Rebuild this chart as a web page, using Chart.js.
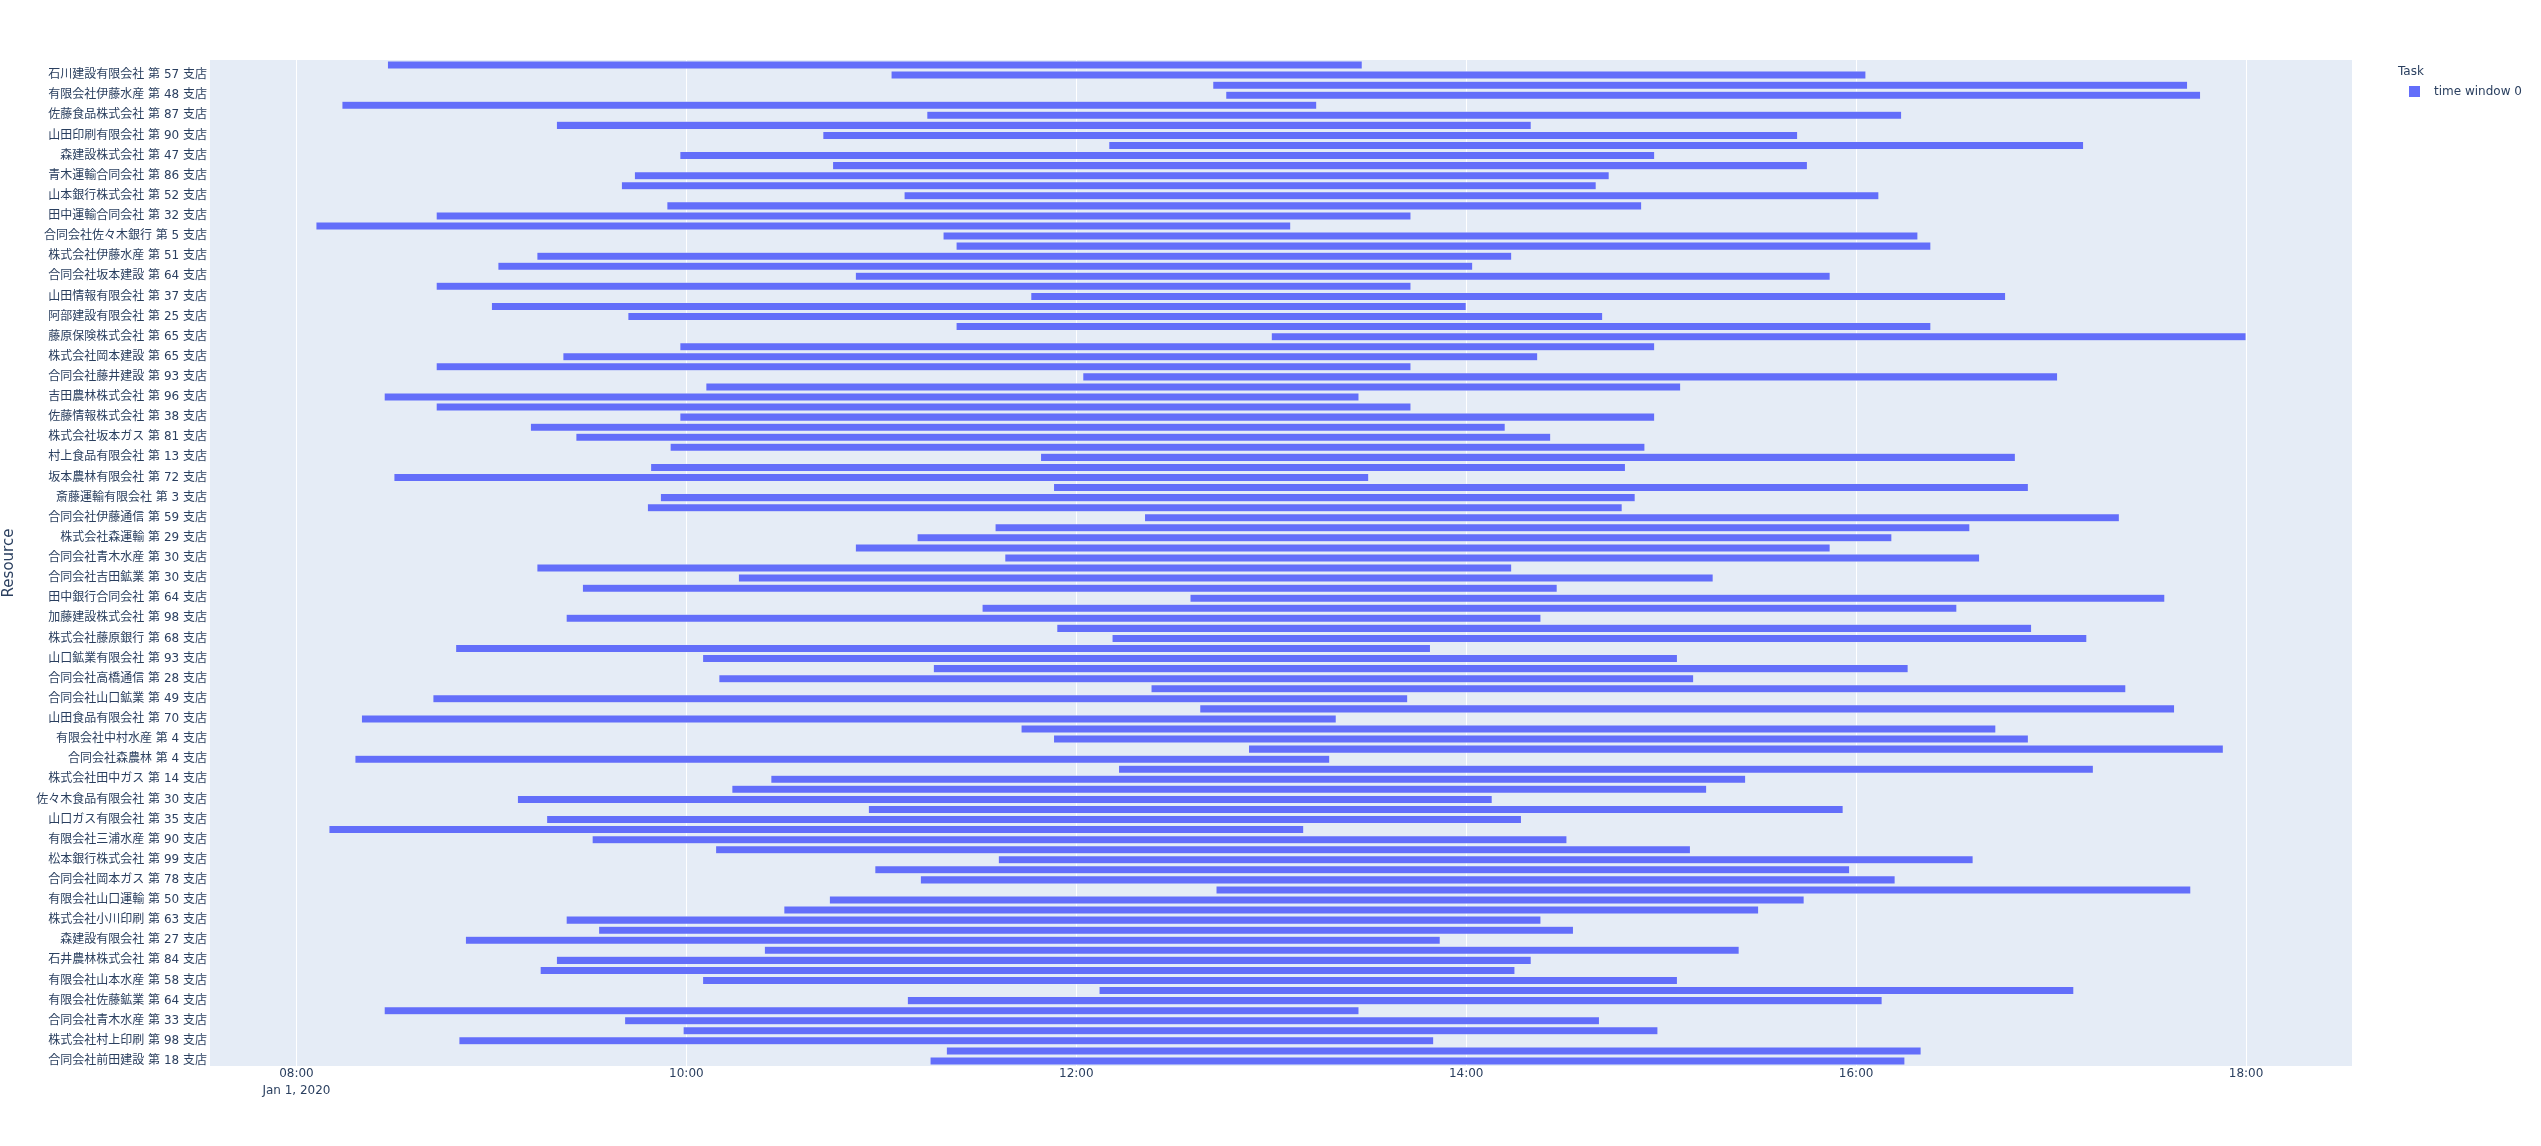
<!DOCTYPE html>
<html>
<head>
<meta charset="utf-8">
<script src="https://cdn.jsdelivr.net/npm/chart.js@4.4.1/dist/chart.umd.min.js"></script>
<style>
  html, body { margin: 0; padding: 0; background: #ffffff; }
  #wrap { width: 2541px; height: 1146px; position: relative; }
</style>
</head>
<body>
<div id="wrap"><canvas id="c"></canvas></div>
<script>
// Rows listed from top to bottom. Rows with '' have tick labels hidden in the reference.
const resources = [
  '', '石川建設有限会社 第 57 支店',
  '', '有限会社伊藤水産 第 48 支店',
  '', '佐藤食品株式会社 第 87 支店',
  '', '山田印刷有限会社 第 90 支店',
  '', '森建設株式会社 第 47 支店',
  '', '青木運輸合同会社 第 86 支店',
  '', '山本銀行株式会社 第 52 支店',
  '', '田中運輸合同会社 第 32 支店',
  '', '合同会社佐々木銀行 第 5 支店',
  '', '株式会社伊藤水産 第 51 支店',
  '', '合同会社坂本建設 第 64 支店',
  '', '山田情報有限会社 第 37 支店',
  '', '阿部建設有限会社 第 25 支店',
  '', '藤原保険株式会社 第 65 支店',
  '', '株式会社岡本建設 第 65 支店',
  '', '合同会社藤井建設 第 93 支店',
  '', '吉田農林株式会社 第 96 支店',
  '', '佐藤情報株式会社 第 38 支店',
  '', '株式会社坂本ガス 第 81 支店',
  '', '村上食品有限会社 第 13 支店',
  '', '坂本農林有限会社 第 72 支店',
  '', '斎藤運輸有限会社 第 3 支店',
  '', '合同会社伊藤通信 第 59 支店',
  '', '株式会社森運輸 第 29 支店',
  '', '合同会社青木水産 第 30 支店',
  '', '合同会社吉田鉱業 第 30 支店',
  '', '田中銀行合同会社 第 64 支店',
  '', '加藤建設株式会社 第 98 支店',
  '', '株式会社藤原銀行 第 68 支店',
  '', '山口鉱業有限会社 第 93 支店',
  '', '合同会社高橋通信 第 28 支店',
  '', '合同会社山口鉱業 第 49 支店',
  '', '山田食品有限会社 第 70 支店',
  '', '有限会社中村水産 第 4 支店',
  '', '合同会社森農林 第 4 支店',
  '', '株式会社田中ガス 第 14 支店',
  '', '佐々木食品有限会社 第 30 支店',
  '', '山口ガス有限会社 第 35 支店',
  '', '有限会社三浦水産 第 90 支店',
  '', '松本銀行株式会社 第 99 支店',
  '', '合同会社岡本ガス 第 78 支店',
  '', '有限会社山口運輸 第 50 支店',
  '', '株式会社小川印刷 第 63 支店',
  '', '森建設有限会社 第 27 支店',
  '', '石井農林株式会社 第 84 支店',
  '', '有限会社山本水産 第 58 支店',
  '', '有限会社佐藤鉱業 第 64 支店',
  '', '合同会社青木水産 第 33 支店',
  '', '株式会社村上印刷 第 98 支店',
  '', '合同会社前田建設 第 18 支店'
];

const startTimes = [
  '08:28','11:03','12:42','12:46','08:14','11:14','09:20','10:42','12:10','09:58',
  '10:45','09:44','09:40','11:07','09:54','08:43','08:06','11:19','11:23','09:14',
  '09:02','10:52','08:43','11:46','09:00','09:42','11:23','13:00','09:58','09:22',
  '08:43','12:02','10:06','08:27','08:43','09:58','09:12','09:26','09:55','11:49',
  '09:49','08:30','11:53','09:52','09:48','12:21','11:35','11:11','10:52','11:38',
  '09:14','10:16','09:28','12:35','11:31','09:23','11:54','12:11','08:49','10:05',
  '11:16','10:10','12:23','08:42','12:38','08:20','11:43','11:53','12:53','08:18',
  '12:13','10:26','10:14','09:08','10:56','09:17','08:10','09:31','10:09','11:36',
  '10:58','11:12','12:43','10:44','10:30','09:23','09:33','08:52','10:24','09:20',
  '09:15','10:05','12:07','11:08','08:27','09:41','09:59','08:50','11:20','11:15'
];

const endTimes = [
  '13:28','16:03','17:42','17:46','13:14','16:14','14:20','15:42','17:10','14:58',
  '15:45','14:44','14:40','16:07','14:54','13:43','13:06','16:19','16:23','14:14',
  '14:02','15:52','13:43','16:46','14:00','14:42','16:23','18:00','14:58','14:22',
  '13:43','17:02','15:06','13:27','13:43','14:58','14:12','14:26','14:55','16:49',
  '14:49','13:30','16:53','14:52','14:48','17:21','16:35','16:11','15:52','16:38',
  '14:14','15:16','14:28','17:35','16:31','14:23','16:54','17:11','13:49','15:05',
  '16:16','15:10','17:23','13:42','17:38','13:20','16:43','16:53','17:53','13:18',
  '17:13','15:26','15:14','14:08','15:56','14:17','13:10','14:31','15:09','16:36',
  '15:58','16:12','17:43','15:44','15:30','14:23','14:33','13:52','15:24','14:20',
  '14:15','15:05','17:07','16:08','13:27','14:41','14:59','13:50','16:20','16:15'
];

const xTickTimes = ['08:00','10:00','12:00','14:00','16:00','18:00'];
const xTickDate = 'Jan 1, 2020';
const seriesName = 'time window 0';
const legendTitle = 'Task';

const toMin = s => { const [h, m] = s.split(':').map(Number); return h * 60 + m; };
const fmt = v => { const h = Math.floor(v / 60), m = Math.round(v - h * 60); return String(h).padStart(2, '0') + ':' + String(m).padStart(2, '0'); };

const FONT = "'DejaVu Sans', 'Noto Sans CJK JP', sans-serif";
const TXT = '#2a3f5f';
const BAR = '#636efa';

const plotBg = {
  id: 'plotBg',
  beforeDraw(chart) {
    const { ctx, chartArea: a } = chart;
    ctx.save();
    ctx.fillStyle = '#E5ECF6';
    ctx.fillRect(a.left, a.top, a.right - a.left, a.bottom - a.top);
    ctx.restore();
  }
};

const customLegend = {
  id: 'customLegend',
  afterDraw(chart) {
    const ctx = chart.ctx;
    ctx.save();
    ctx.font = '12px ' + FONT;
    ctx.fillStyle = TXT;
    ctx.textBaseline = 'middle';
    ctx.textAlign = 'left';
    ctx.fillText(legendTitle, 2398, 72);
    ctx.fillStyle = BAR;
    ctx.fillRect(2409, 86, 11, 11);
    ctx.fillStyle = TXT;
    ctx.fillText(seriesName, 2434, 91.5);
    ctx.restore();
  }
};

Chart.defaults.font.family = FONT;
Chart.defaults.color = TXT;

new Chart(document.getElementById('c'), {
  type: 'bar',
  data: {
    labels: resources,
    datasets: [{
      label: seriesName,
      data: startTimes.map((s, i) => [toMin(s), toMin(endTimes[i])]),
      backgroundColor: BAR,
      borderColor: '#E5ECF6',
      borderWidth: 0.5,
      borderSkipped: false,
      barPercentage: 0.8,
      categoryPercentage: 1.0
    }]
  },
  options: {
    indexAxis: 'y',
    responsive: true,
    maintainAspectRatio: false,
    devicePixelRatio: 1,
    animation: false,
    layout: { padding: { top: 60, right: 189, bottom: 0, left: 0 } },
    plugins: {
      legend: { display: false },
      tooltip: { enabled: false }
    },
    scales: {
      x: {
        type: 'linear',
        position: 'bottom',
        min: 453.4,
        max: 1112.6,
        afterBuildTicks: scale => { scale.ticks = xTickTimes.map(t => ({ value: toMin(t) })); },
        afterFit: scale => { scale.height = 80; },
        grid: { color: '#ffffff', lineWidth: 1, drawTicks: false },
        border: { display: false },
        ticks: {
          padding: 0,
          maxRotation: 0,
          autoSkip: false,
          color: TXT,
          font: { size: 12, lineHeight: 1.37 },
          callback: (v, i) => i === 0 ? [fmt(v), xTickDate] : fmt(v)
        }
      },
      y: {
        type: 'category',
        afterFit: scale => { scale.width = 210; },
        grid: { display: false, drawTicks: false },
        border: { display: false },
        ticks: {
          autoSkip: false,
          padding: 3,
          color: TXT,
          font: { size: 12 },
          callback: (v, i) => resources[i]
        },
        title: {
          display: true,
          text: 'Resource',
          color: TXT,
          font: { size: 15 },
          padding: { top: 0, bottom: 0 }
        }
      }
    }
  },
  plugins: [plotBg, customLegend]
});
</script>
</body>
</html>
